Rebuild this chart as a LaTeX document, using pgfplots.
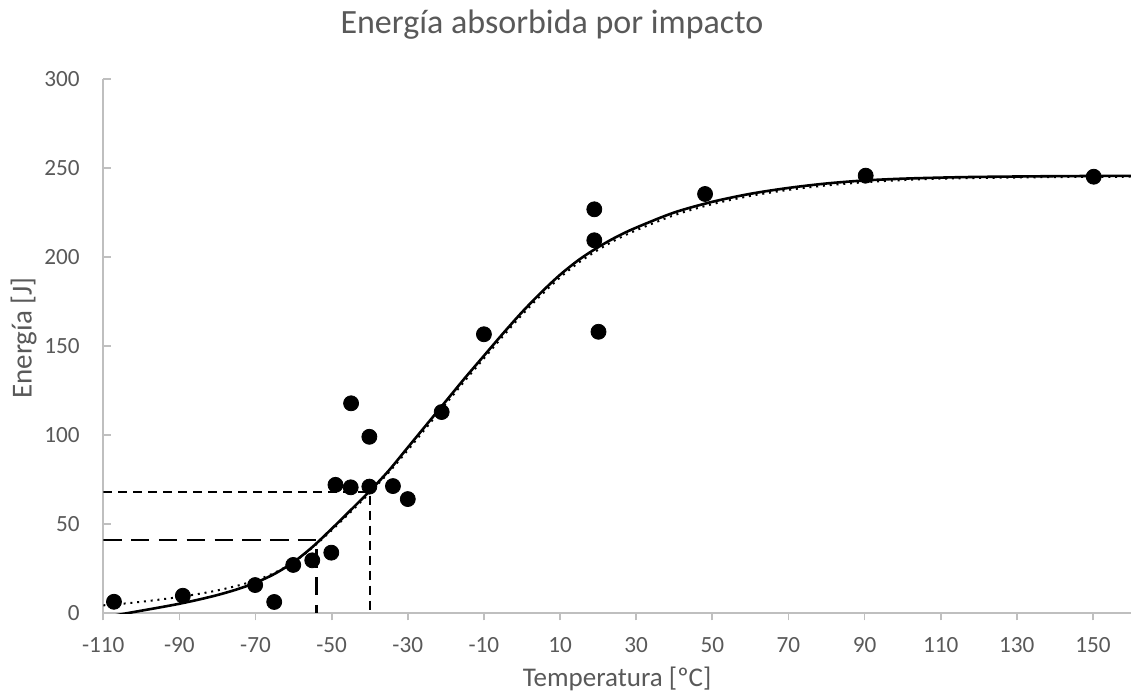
\documentclass[border=0pt]{standalone}
\usepackage{pgfplots}
\pgfplotsset{compat=1.18}
\usepackage{fontspec}
\setmainfont{Carlito}
\definecolor{txt}{RGB}{89,89,89}
\definecolor{axgray}{RGB}{191,191,191}
\begin{document}
\begin{tikzpicture}
\useasboundingbox (-51.65pt,-42pt) rectangle (513.85pt,306.5pt);
\begin{axis}[
  at={(0,0)}, anchor=south west,
  scale only axis,
  width=513.85pt, height=267pt,
  xmin=-110, xmax=160, ymin=0, ymax=300,
  axis x line=bottom, axis y line=left,
  axis line style={-, draw=axgray, line width=0.9pt},
  xtick={-110,-90,...,150},
  ytick={0,50,...,300},
  tick align=inside,
  major tick length=3.7pt,
  tick style={draw=axgray, line width=0.9pt},
  x tick style={yshift=-3.7pt},
  /pgf/number format/assume math mode=true,
  /pgf/number format/set thousands separator={},
  ticklabel style={font=\fontsize{11.6}{13}\selectfont, text=txt},
  xticklabel style={anchor=north, inner sep=0pt, yshift=-12pt},
  yticklabel style={anchor=east, inner sep=0pt, xshift=-11.65pt},
  title={Energía absorbida por impacto},
  title style={at={(0.4366,1.0618)}, anchor=base, font=\fontsize{17}{20}\selectfont, text=txt, inner sep=0pt},
  xlabel={Temperatura [ºC]},
  xlabel style={at={(0.5,-0.138)}, anchor=base, font=\fontsize{13.5}{16}\selectfont, text=txt, inner sep=0pt},
  ylabel={Energía [J]},
  ylabel style={at={(-0.0697,0.515)}, anchor=base, font=\fontsize{14.5}{17}\selectfont, text=txt, inner sep=0pt},
  clip=true,
]
% dashed guide lines
\addplot[black, line width=1.2pt, dash pattern=on 9.2pt off 4.7pt] coordinates {(-110,41) (-54,41) (-54,0)};
\addplot[black, line width=1.2pt, dash pattern=on 4.5pt off 3pt] coordinates {(-110,68) (-40,68) (-40,0)};
% dotted fit
\addplot[black, line width=1pt, dash pattern=on 1pt off 2.4pt, smooth] coordinates {
(-110,4.3) (-105,5.2) (-100,6.3) (-95,7.6) (-90,9) (-85,10.7) (-80,12.7) (-75,15.2) (-70,18.3) (-65,22.6) (-60,28.6) (-55,36.8) (-50,46.5) (-45,56.8) (-40,67.5) (-35,79) (-30,91.5) (-25,104.5) (-20,117.5) (-15,130.5) (-10,143) (-5,155.5) (0,167.5) (5,178.5) (10,188.5) (15,197) (20,204) (25,210) (30,215) (40,223.5) (50,229.7) (60,234.3) (70,237.7) (80,240.2) (90,242) (100,243.2) (110,244) (120,244.4) (140,244.9) (160,245.1)
};
% solid fit
\addplot[black, line width=1.3pt, smooth] coordinates {
(-110,-2.6) (-105,-0.6) (-100,1.3) (-95,3.2) (-90,5.2) (-85,7.5) (-80,10.1) (-75,13.2) (-70,17) (-65,22) (-60,28.6) (-55,37.2) (-50,47.3) (-45,57.8) (-40,68.5) (-35,80) (-30,93) (-25,106) (-20,119) (-15,132) (-10,144.5) (-5,157) (0,169) (5,180) (10,190) (15,198.5) (20,205.5) (25,211.5) (30,216.5) (40,225) (50,231) (60,235.5) (70,238.8) (80,241.3) (90,243) (100,244) (110,244.6) (120,245) (140,245.4) (160,245.6)
};
% measurements
\addplot[only marks, mark=*, mark size=3.75pt, black, mark options={fill=black, draw=black}, clip mode=individual] coordinates {
(-107.2,6.3) (-89.1,9.7) (-70.1,15.7) (-65.1,6.2) (-60.1,27) (-55.1,29.6) (-50.1,33.9) (-49,72) (-45,70.6) (-44.9,117.8) (-40.1,71) (-40.1,99) (-33.9,71.3) (-30,64) (-21.1,112.9) (-10,156.6) (19,226.8) (19,209.4) (20.1,158) (48.1,235.4) (90.3,245.7) (150.2,245.1)
};
\end{axis}
\end{tikzpicture}
\end{document}
